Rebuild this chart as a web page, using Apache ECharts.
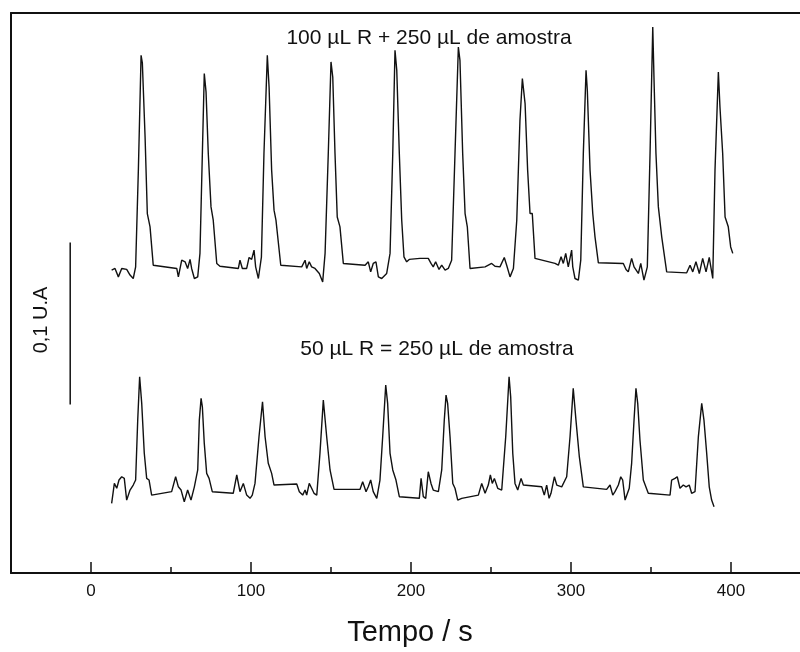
<!DOCTYPE html>
<html>
<head>
<meta charset="utf-8">
<script src="https://cdn.jsdelivr.net/npm/echarts@6/dist/echarts.min.js"></script>
<style>
html,body{margin:0;padding:0;background:#fff;overflow:hidden;}
#chart{width:830px;height:652px;}
</style>
</head>
<body>
<div id="chart"></div>
<script>
// Time axis (s)
var xMin = -50;
var xMax = 450;
var xTickValues = [0, 100, 200, 300, 400];
var xMinorTickValues = [50, 150, 250, 350];

// Upper trace: 100 µL R + 250 µL de amostra (signal in mAU, arbitrary offset)
var upperTime = [12.9,15.0,17.1,19.2,22.3,24.4,26.4,27.9,29.6,31.3,32.1,33.8,35.2,36.9,38.9,53.6,54.6,56.7,58.8,60.4,61.9,62.9,64.6,66.7,68.1,69.6,70.8,71.9,73.3,75.0,76.4,78.6,80.6,92.1,93.1,94.6,97.3,98.8,100.4,101.9,102.9,104.6,106.5,108.1,110.2,111.3,112.9,114.4,115.6,118.6,131.7,132.7,133.8,134.8,136.4,137.9,140.0,142.7,144.8,146.3,148.3,150.0,151.1,152.5,153.9,155.6,157.7,171.3,173.3,174.8,176.4,178.1,179.6,181.7,184.8,186.9,188.6,190.0,191.1,192.7,194.2,195.6,197.3,198.9,205.6,210.8,212.5,213.9,215.4,217.5,219.2,221.3,223.3,225.4,227.5,229.6,230.6,232.3,233.8,235.2,236.9,237.9,246.3,250.4,252.5,255.6,258.3,259.8,261.9,264.0,266.1,268.1,269.6,271.3,272.9,274.4,275.8,277.5,290.0,292.1,293.8,295.2,296.7,298.3,300.4,301.1,302.5,304.6,306.1,307.7,309.4,310.2,311.9,313.6,315.0,317.1,332.7,334.4,335.8,337.9,339.4,340.6,342.1,343.6,345.6,347.7,349.4,351.1,351.9,353.1,354.6,356.7,359.8,372.3,374.4,376.1,378.1,380.2,382.3,384.4,386.4,388.6,390.0,392.1,393.1,394.8,396.3,398.3,399.8,401.1];
var upperSignal = [187.0,188.0,182.8,188.0,187.4,183.9,181.8,189.0,248.7,319.6,314.7,269.2,221.9,213.7,190.0,188.0,182.8,193.1,192.1,188.0,193.6,188.0,181.8,182.8,197.3,259.0,308.3,297.0,259.0,226.0,217.8,191.1,189.4,188.0,193.1,188.0,188.0,194.8,193.6,199.3,189.0,181.8,195.0,259.0,319.6,300.0,248.7,224.0,217.8,190.0,189.0,188.0,193.1,188.0,192.1,189.0,188.0,184.9,179.7,197.3,259.0,315.5,306.2,259.0,219.8,213.7,191.1,190.0,192.1,185.9,191.1,192.1,182.8,181.8,184.9,197.3,259.0,322.7,310.4,259.0,217.8,195.2,192.1,193.6,194.2,194.2,191.1,189.0,192.1,187.4,190.0,187.0,188.0,193.1,259.0,324.7,316.5,259.0,221.9,213.7,188.0,189.0,189.0,191.1,189.4,189.0,194.8,190.0,182.8,188.0,217.8,279.5,305.2,289.8,248.7,221.9,221.9,194.2,191.1,190.0,195.2,191.1,197.3,189.0,199.3,189.0,181.8,180.8,193.1,259.0,310.4,298.0,248.7,221.9,207.5,191.5,191.1,187.4,185.9,194.2,189.0,190.0,184.9,191.1,180.8,189.0,259.0,337.1,304.2,259.0,226.0,207.5,185.9,185.3,190.0,185.9,192.1,184.9,194.2,185.9,194.8,181.8,248.7,309.3,287.7,259.0,219.8,213.7,201.3,197.3];

// Lower trace: 50 µL R = 250 µL de amostra
var lowerTime = [12.9,14.6,16.1,17.5,19.2,20.8,22.3,24.4,26.4,27.9,29.2,30.4,31.7,33.3,34.8,36.3,37.9,50.4,52.9,54.6,56.3,58.3,60.4,62.5,64.6,66.7,67.7,68.8,69.6,70.8,72.3,73.8,75.8,88.9,91.1,93.1,95.2,97.3,99.4,100.8,102.5,105.0,107.2,108.8,110.8,112.9,114.4,128.6,130.2,132.3,133.8,134.8,136.4,137.9,139.4,141.1,143.1,145.2,147.3,149.4,151.9,168.1,169.8,171.9,173.3,174.8,176.4,178.6,180.6,182.3,184.2,185.4,186.9,188.6,190.6,192.7,205.2,206.3,207.7,209.2,210.8,212.5,213.9,217.1,219.2,220.8,221.9,222.9,224.4,226.1,227.5,229.2,231.7,242.1,244.2,246.3,248.3,249.6,250.8,252.1,254.2,256.7,259.2,261.3,262.3,263.6,265.0,266.7,268.8,270.2,281.7,283.3,284.8,286.3,287.5,289.6,291.1,294.2,297.3,299.4,301.4,303.1,305.2,307.7,322.3,324.4,326.1,327.5,329.6,331.1,332.3,333.8,336.4,337.9,339.4,340.6,341.7,343.1,345.2,348.3,361.9,362.9,365.0,366.4,368.1,370.2,371.9,373.9,375.4,377.5,379.6,381.7,383.1,384.8,386.4,387.9,389.4];
var lowerSignal = [43.0,55.3,52.3,57.4,59.4,58.4,45.0,51.2,54.3,57.4,94.4,121.1,104.7,73.9,58.4,57.4,48.1,50.2,59.4,53.2,51.2,44.0,51.2,45.0,53.2,63.6,94.4,107.8,102.6,80.0,61.5,58.4,50.2,49.2,60.5,50.2,55.3,48.1,46.1,48.1,55.3,84.1,105.7,84.1,67.7,61.5,54.3,54.9,50.2,48.1,51.2,48.1,55.3,52.3,49.2,48.1,73.9,106.7,84.1,63.6,51.6,51.6,56.3,50.2,53.2,57.4,50.2,46.1,57.4,84.1,116.0,104.7,73.9,63.6,57.4,47.1,46.1,58.4,47.1,46.1,62.5,55.3,51.2,50.2,63.6,94.4,109.8,104.7,84.1,55.3,52.3,45.0,46.1,48.1,55.3,49.2,54.3,60.5,55.3,58.4,52.3,51.2,84.1,121.1,108.8,73.9,55.3,51.2,58.4,54.3,53.2,48.1,54.3,46.1,49.2,59.4,54.3,53.2,59.4,84.1,114.0,94.4,71.8,53.2,51.6,54.3,48.1,50.2,54.3,59.4,57.4,45.0,52.3,67.7,94.4,114.0,104.7,82.1,57.4,49.2,48.1,57.4,58.4,59.4,52.3,54.3,53.2,54.3,49.2,50.2,84.1,104.7,94.4,73.9,53.2,45.0,40.9];

// Scale bar: 0,1 U.A = 100 mAU
var scaleBarTime = -13;
var scaleBarStart = 104;
var scaleBarLength = 100;

var upperLabel = '100 µL R + 250 µL de amostra';
var lowerLabel = '50 µL R = 250 µL de amostra';
var scaleLabel = '0,1 U.A';
var xAxisName = 'Tempo / s';

function zip(a, b) { return a.map(function (v, i) { return [v, b[i]]; }); }

var chart = echarts.init(document.getElementById('chart'), null, {renderer: 'canvas'});
var font = '"Liberation Sans", Arial, sans-serif';

chart.setOption({
  animation: false,
  backgroundColor: '#fff',
  grid: {left: 11, width: 800, top: 13, height: 560, containLabel: false},
  xAxis: [{
    type: 'value', min: xMin, max: xMax,
    axisLine: {show: true, onZero: false, lineStyle: {color: '#111', width: 2}},
    axisTick: {show: true, inside: true, length: 11, customValues: xTickValues, lineStyle: {color: '#111', width: 1.5}},
    axisLabel: {show: true, customValues: xTickValues, fontFamily: font, fontSize: 17, color: '#111', margin: 10},
    splitLine: {show: false}
  }, {
    type: 'value', min: xMin, max: xMax, position: 'bottom',
    axisLine: {show: false, onZero: false},
    axisTick: {show: true, inside: true, length: 6, customValues: xMinorTickValues, lineStyle: {color: '#111', width: 1.5}},
    axisLabel: {show: false},
    splitLine: {show: false}
  }, {
    type: 'value', min: xMin, max: xMax, position: 'top',
    axisLine: {show: true, onZero: false, lineStyle: {color: '#111', width: 2}},
    axisTick: {show: false}, axisLabel: {show: false}, splitLine: {show: false}
  }],
  yAxis: {
    type: 'value', min: 0, max: 345.7, position: 'left',
    axisLine: {show: true, onZero: false, lineStyle: {color: '#111', width: 2}},
    axisTick: {show: false}, axisLabel: {show: false}, splitLine: {show: false}
  },
  series: [{
    type: 'line', data: zip(upperTime, upperSignal), showSymbol: false, symbol: 'none',
    lineStyle: {color: '#111', width: 1.4}, silent: true
  }, {
    type: 'line', data: zip(lowerTime, lowerSignal), showSymbol: false, symbol: 'none',
    lineStyle: {color: '#111', width: 1.4}, silent: true
  }, {
    type: 'line', data: [[scaleBarTime, scaleBarStart], [scaleBarTime, scaleBarStart + scaleBarLength]],
    showSymbol: false, symbol: 'none', lineStyle: {color: '#111', width: 1.5}, silent: true
  }],
  graphic: [{
    type: 'text',
    style: {text: upperLabel, font: '21px ' + font, fill: '#111', x: 429, y: 38, align: 'center', verticalAlign: 'middle'}
  }, {
    type: 'text',
    style: {text: lowerLabel, font: '21px ' + font, fill: '#111', x: 437, y: 349, align: 'center', verticalAlign: 'middle'}
  }, {
    type: 'text', x: 41, y: 320, rotation: Math.PI / 2,
    style: {text: scaleLabel, font: '20px ' + font, fill: '#111', x: 0, y: 0, align: 'center', verticalAlign: 'middle'}
  }, {
    type: 'text',
    style: {text: xAxisName, font: '29px ' + font, fill: '#111', x: 410, y: 633, align: 'center', verticalAlign: 'middle'}
  }]
});
</script>
</body>
</html>
